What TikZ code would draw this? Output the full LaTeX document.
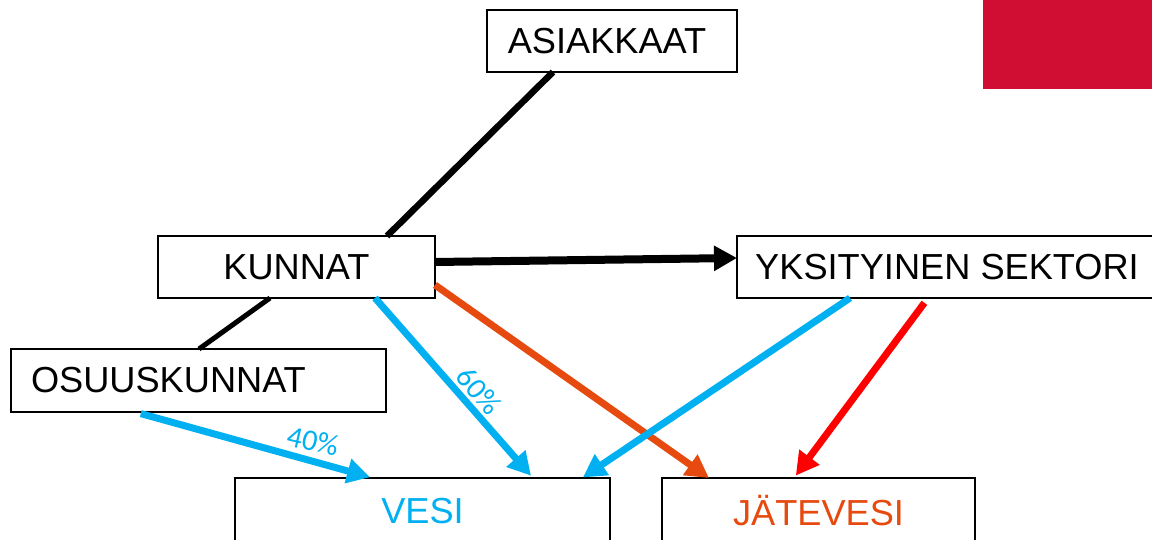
\documentclass[tikz,border=0pt]{standalone}
\usepackage{fontspec}
\setmainfont{Liberation Sans}
\newfontfamily\pctfont{Carlito}
\usetikzlibrary{arrows.meta}
\definecolor{cblue}{RGB}{0,176,240}
\definecolor{corange}{RGB}{230,74,15}
\definecolor{cred}{RGB}{255,0,0}
\definecolor{cbrand}{RGB}{208,14,51}
\tikzset{
  box/.style={draw=black, line width=2pt, minimum height=62pt, inner sep=0pt, outer sep=0pt,
    font=\fontsize{36.2}{40}\selectfont},
  flow/.style={line width=7pt, -{Triangle[length=23pt,width=24pt]}},
  pct/.style={text=cblue, inner sep=0pt, font=\pctfont\fontsize{30}{32}\selectfont},
}
\begin{document}
\begin{tikzpicture}[x=1pt,y=-1pt]
\useasboundingbox (0,0) rectangle (1152,540);
\fill[cbrand] (983,0) rectangle (1152,89);
% boxes
\node[box, minimum width=250pt] (asi) at (612,41) {\hspace*{-10pt}ASIAKKAAT};
\node[box, minimum width=277pt] (kun) at (296.5,267) {KUNNAT};
\node[box, minimum width=420pt] (yks) at (947,267) {YKSITYINEN SEKTORI};
\node[box, minimum width=375pt, minimum height=63pt] (osu) at (198.5,380.5) {\makebox[335pt][l]{OSUUSKUNNAT}};
\node[box, minimum width=375pt, minimum height=66pt, text=cblue] (vesi) at (422.5,511) {VESI};
\node[box, minimum width=313pt, minimum height=66pt, text=corange] (jat) at (818.5,511) {JÄTEVESI};
% connectors
\draw[line width=6.5pt] (asi.south -| 553,0) -- (kun.north -| 387,0);
\draw[line width=5pt] (kun.south -| 270,0) -- (osu.north -| 199,0);
\draw[flow, line width=8pt, black] (kun.east |- 0,262) -- (yks.west |- 0,258);
\draw[flow, cblue, shorten >=3pt] (kun.south -| 375,0) -- (vesi.north -| 533,0);
\draw[flow, corange] (kun.east |- 0,285) -- (jat.north -| 709,0);
\draw[flow, cblue, shorten <=6pt, shorten >=3pt] (osu.south -| 135,0) -- (vesi.north -| 373,0);
\draw[flow, cblue, shorten >=1pt] (yks.south -| 850,0) -- (vesi.north -| 582,0);
\draw[flow, cred, shorten <=6pt, shorten >=3pt] (yks.south -| 928,0) -- (jat.north -| 794,0);
% labels
\node[pct, rotate=-50] (p60) at (479,391) {60\%};
\node[pct, rotate=-13] (p40) at (313,441) {40\%};
\end{tikzpicture}
\end{document}
